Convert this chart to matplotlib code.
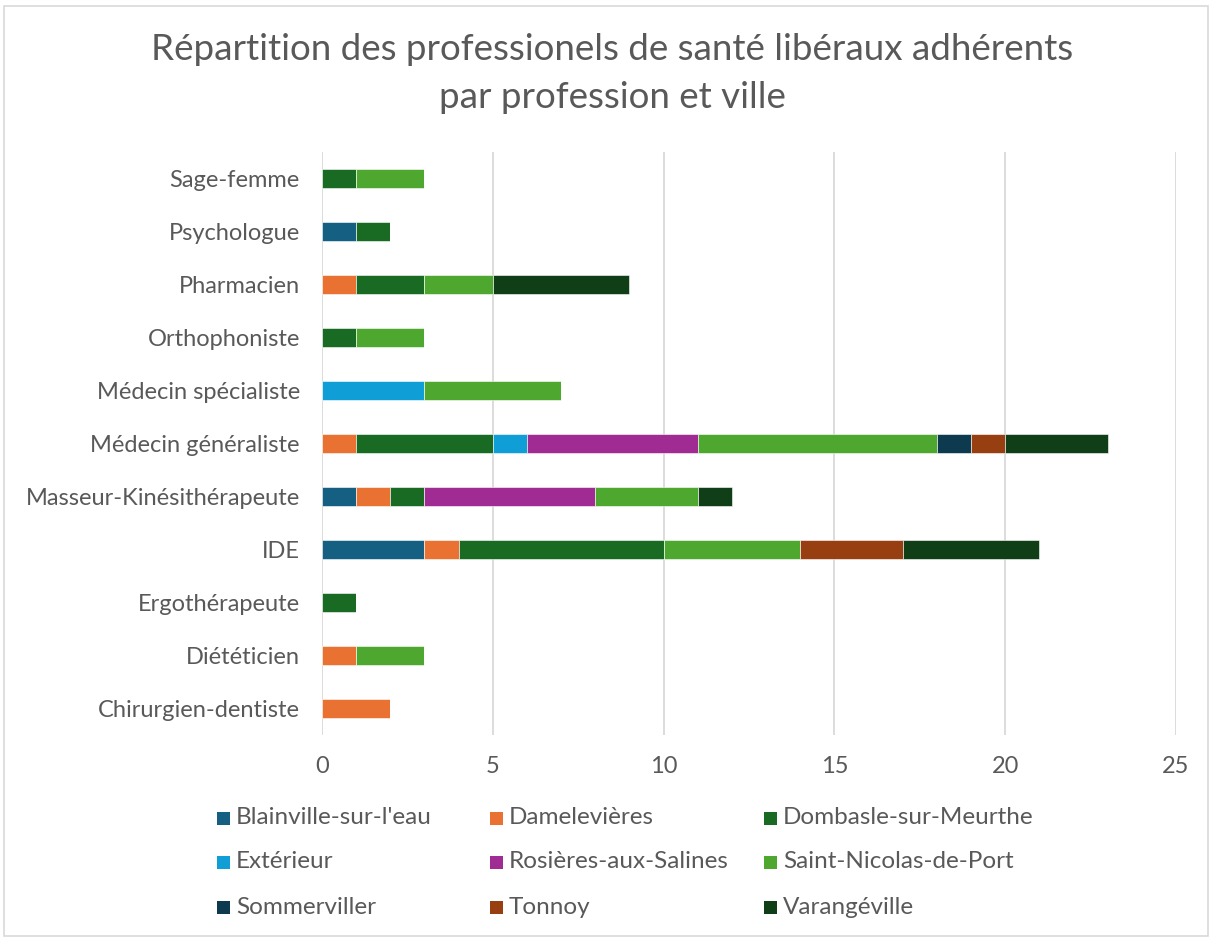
import matplotlib
matplotlib.use("Agg")
import matplotlib.pyplot as plt
from matplotlib.patches import Rectangle
import numpy as np

plt.rcParams['font.family'] = ['Lato', 'DejaVu Sans']

professions = ["Chirurgien-dentiste", "Diététicien", "Ergothérapeute", "IDE",
               "Masseur-Kinésithérapeute", "Médecin généraliste", "Médecin spécialiste",
               "Orthophoniste", "Pharmacien", "Psychologue", "Sage-femme"]

villes = ["Blainville-sur-l'eau", "Damelevières", "Dombasle-sur-Meurthe", "Extérieur",
          "Rosières-aux-Salines", "Saint-Nicolas-de-Port", "Sommerviller", "Tonnoy", "Varangéville"]

blainville = [0, 0, 0, 3, 1, 0, 0, 0, 0, 1, 0]
damelevieres = [2, 1, 0, 1, 1, 1, 0, 0, 1, 0, 0]
dombasle = [0, 0, 1, 6, 1, 4, 0, 1, 2, 1, 1]
exterieur = [0, 0, 0, 0, 0, 1, 3, 0, 0, 0, 0]
rosieres = [0, 0, 0, 0, 5, 5, 0, 0, 0, 0, 0]
saint_nicolas = [0, 2, 0, 4, 3, 7, 4, 2, 2, 0, 2]
sommerviller = [0, 0, 0, 0, 0, 1, 0, 0, 0, 0, 0]
tonnoy = [0, 0, 0, 3, 0, 1, 0, 0, 0, 0, 0]
varangeville = [0, 0, 0, 4, 1, 3, 0, 0, 4, 0, 0]

series = [blainville, damelevieres, dombasle, exterieur, rosieres,
          saint_nicolas, sommerviller, tonnoy, varangeville]
colors = ["#156082", "#E97132", "#196B24", "#0F9ED5", "#A02B93",
          "#4EA72E", "#0D3A4F", "#983F11", "#0F3E17"]

xticks = [0, 5, 10, 15, 20, 25]
text_color = "#595959"

W, H = 1214, 940
fig = plt.figure(figsize=(W/100, H/100), dpi=100)
ax = fig.add_axes([322/W, 1-735/H, (1176-322)/W, (735-152)/H])

y = np.arange(len(professions))
left = np.zeros(len(professions))
for name, vals, col in zip(villes, series, colors):
    vals = np.array(vals, dtype=float)
    ax.barh(y, vals, left=left, height=0.36, color=col, label=name,
            edgecolor="white", linewidth=0.4)
    left += vals

ax.set_xlim(0, 25)
ax.set_ylim(-0.5, len(professions) - 0.5)
ax.set_xticks(xticks)
ax.set_xticklabels([str(t) for t in xticks])
ax.set_yticks(y)
ax.set_yticklabels(professions)
ax.tick_params(axis='both', length=0, labelsize=17, colors=text_color)
ax.tick_params(axis='y', pad=16)
ax.tick_params(axis='x', pad=15)
ax.grid(axis='x', color="#D9D9D9", linewidth=1.3)
ax.set_axisbelow(True)
for s in ax.spines.values():
    s.set_visible(False)

fig.text(612/W, 1-50/H, "Répartition des professionels de santé libéraux adhérents",
         ha='center', va='center', fontsize=26.5, color=text_color)
fig.text(612/W, 1-97/H, "par profession et ville",
         ha='center', va='center', fontsize=26.5, color=text_color)

# Legend, laid out as a 3x3 grid like the original
col_x = [217, 490, 764]
row_y = [818, 862, 907]
sq = 13
for i, (name, col) in enumerate(zip(villes, colors)):
    cx = col_x[i % 3]
    cy = row_y[i // 3]
    fig.patches.append(Rectangle((cx/W, 1-(cy + sq/2)/H), sq/W, sq/H,
                                 transform=fig.transFigure, facecolor=col,
                                 edgecolor='none'))
    fig.text((cx + 19)/W, 1-cy/H, name, ha='left', va='center',
             fontsize=17.5, color=text_color)

fig.patches.append(Rectangle((4/W, 4/H), 1204/W, 930/H, transform=fig.transFigure,
                             fill=False, edgecolor="#D9D9D9", linewidth=1.2))

fig.savefig("out.png", dpi=100, facecolor="white")
